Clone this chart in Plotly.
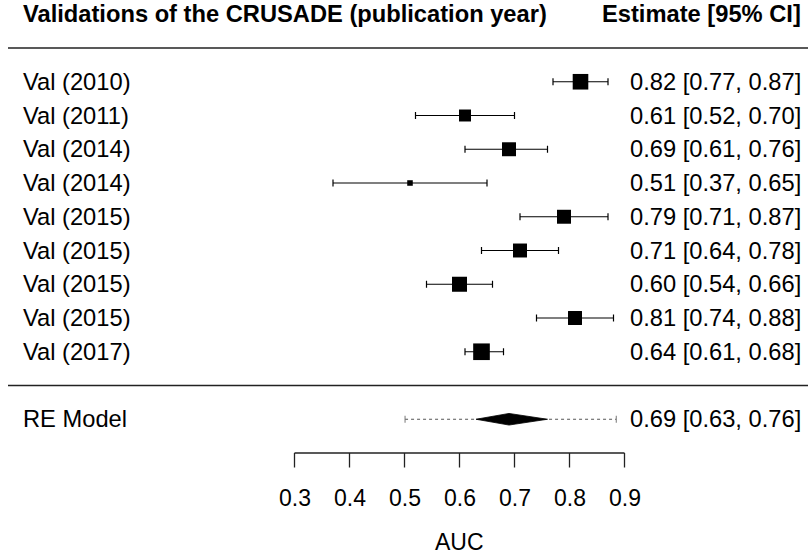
import plotly.graph_objects as go

# ---- data ----
studies = ["Val (2010)", "Val (2011)", "Val (2014)", "Val (2014)", "Val (2015)",
           "Val (2015)", "Val (2015)", "Val (2015)", "Val (2017)"]
estimates = [0.82, 0.61, 0.69, 0.51, 0.79, 0.71, 0.60, 0.81, 0.64]
ci_lower = [0.77, 0.52, 0.61, 0.37, 0.71, 0.64, 0.54, 0.74, 0.61]
ci_upper = [0.87, 0.70, 0.76, 0.65, 0.87, 0.78, 0.66, 0.88, 0.68]
weights = [12.6, 9.5, 11.2, 4.0, 11.2, 11.2, 12.1, 11.2, 13.5]  # relative study weights

re_label = "RE Model"
re_estimate = 0.69
re_lower = 0.63
re_upper = 0.76
pi_lower = 0.501
pi_upper = 0.885

tick_values = [0.3, 0.4, 0.5, 0.6, 0.7, 0.8, 0.9]
tick_labels = ["0.3", "0.4", "0.5", "0.6", "0.7", "0.8", "0.9"]
x_title = "AUC"
header_left = "Validations of the CRUSADE (publication year)"
header_right = "Estimate [95% CI]"

# ---- layout helpers ----
W, H = 808, 556
FONT = "Liberation Sans, Arial, Helvetica, sans-serif"
FS = 23.7
FS_AX = 23
PX_PER_UNIT = 550.0          # pixels per 1.0 on the AUC scale
X0_PX = 294.5                # pixel of 0.3
ROW_PX = 33.75               # pixels per row
ROW0_PX = 385.5              # pixel of row 0


def xd(px):
    return 0.3 + (px - X0_PX) / PX_PER_UNIT


def rpx(px):
    return px / ROW_PX


k = len(studies)
rows = list(range(k, 0, -1))

fig = go.Figure()

# CI whiskers with end ticks
tick_h = rpx(3.5)
wx, wy = [], []
for r, l, h in zip(rows, ci_lower, ci_upper):
    wx += [l, h, None, l, l, None, h, h, None]
    wy += [r, r, None, r - tick_h, r + tick_h, None, r - tick_h, r + tick_h, None]
fig.add_trace(go.Scatter(x=wx, y=wy, mode="lines",
                         line=dict(color="black", width=1.2),
                         hoverinfo="skip", showlegend=False))

# squares sized by weight (cex 0.5 .. 1.5)
wmin, wmax = min(weights), max(weights)
sizes = [11.1 * (0.5 + (w - wmin) / (wmax - wmin)) for w in weights]
fig.add_trace(go.Scatter(x=estimates, y=rows, mode="markers",
                         marker=dict(symbol="square", size=sizes, color="black", opacity=1,
                                     line=dict(width=0)),
                         hoverinfo="skip", showlegend=False))

# prediction interval (dotted) with end ticks
re_row = -1
fig.add_trace(go.Scatter(x=[pi_lower, pi_upper], y=[re_row, re_row], mode="lines",
                         line=dict(color="#555555", width=1, dash="dot"),
                         hoverinfo="skip", showlegend=False))
fig.add_trace(go.Scatter(x=[pi_lower, pi_lower, None, pi_upper, pi_upper],
                         y=[re_row - tick_h, re_row + tick_h, None, re_row - tick_h, re_row + tick_h],
                         mode="lines", line=dict(color="#777777", width=1),
                         hoverinfo="skip", showlegend=False))

# diamond
dh = rpx(5.8)
fig.add_trace(go.Scatter(x=[re_lower, re_estimate, re_upper, re_estimate, re_lower],
                         y=[re_row, re_row + dh, re_row, re_row - dh, re_row],
                         mode="lines", fill="toself", fillcolor="black",
                         line=dict(color="black", width=0.8),
                         hoverinfo="skip", showlegend=False))

shapes = []
# horizontal separators
for r in [k + 1, 0]:
    shapes.append(dict(type="line", xref="paper", yref="y", x0=8 / W, x1=1,
                       y0=r, y1=r, line=dict(color="#222222", width=1.6)))

# bottom axis
ax_row = -2
tick_len = rpx(14.5)
shapes.append(dict(type="line", xref="x", yref="y", x0=tick_values[0], x1=tick_values[-1],
                   y0=ax_row, y1=ax_row, line=dict(color="#222222", width=1.3)))
for tv in tick_values:
    shapes.append(dict(type="line", xref="x", yref="y", x0=tv, x1=tv,
                       y0=ax_row, y1=ax_row - tick_len, line=dict(color="#222222", width=1.3)))

annotations = []
left_x = xd(22)
right_x = xd(802)
fnt = dict(family=FONT, size=FS, color="black")
fnt_ax = dict(family=FONT, size=FS_AX, color="black")
for r, s, e, l, h in zip(rows, studies, estimates, ci_lower, ci_upper):
    annotations.append(dict(x=left_x, y=r, xref="x", yref="y", text=s, showarrow=False,
                            xanchor="left", yanchor="middle", font=fnt, borderpad=0))
    annotations.append(dict(x=right_x, y=r, xref="x", yref="y",
                            text=f"{e:.2f} [{l:.2f}, {h:.2f}]", showarrow=False,
                            xanchor="right", yanchor="middle", font=fnt, borderpad=0))
annotations.append(dict(x=left_x, y=re_row, xref="x", yref="y", text=re_label, showarrow=False,
                        xanchor="left", yanchor="middle", font=fnt, borderpad=0))
annotations.append(dict(x=right_x, y=re_row, xref="x", yref="y",
                        text=f"{re_estimate:.2f} [{re_lower:.2f}, {re_upper:.2f}]",
                        showarrow=False, xanchor="right", yanchor="middle", font=fnt, borderpad=0))
# headers
hdr_row = k + 2
annotations.append(dict(x=left_x, y=hdr_row, xref="x", yref="y", text=f"<b>{header_left}</b>",
                        showarrow=False, xanchor="left", yanchor="middle", font=fnt, borderpad=0))
annotations.append(dict(x=right_x, y=hdr_row, xref="x", yref="y", text=f"<b>{header_right}</b>",
                        showarrow=False, xanchor="right", yanchor="middle", font=fnt, borderpad=0))
# tick labels and axis title
lab_row = (ROW0_PX - 498) / ROW_PX
for tv, tl in zip(tick_values, tick_labels):
    annotations.append(dict(x=tv, y=lab_row, xref="x", yref="y", text=tl, showarrow=False,
                            xanchor="center", yanchor="middle", font=fnt_ax, borderpad=0))
title_row = (ROW0_PX - 542) / ROW_PX
annotations.append(dict(x=(tick_values[0] + tick_values[-1]) / 2, y=title_row, xref="x", yref="y",
                        text=x_title, showarrow=False, xanchor="center", yanchor="middle",
                        font=fnt_ax, borderpad=0))

fig.update_layout(
    width=W, height=H,
    margin=dict(l=0, r=0, t=0, b=0),
    paper_bgcolor="white", plot_bgcolor="white",
    xaxis=dict(range=[xd(0), xd(W)], visible=False, fixedrange=True),
    yaxis=dict(range=[(ROW0_PX - H) / ROW_PX, ROW0_PX / ROW_PX], visible=False,
               fixedrange=True, autorange=False),
    shapes=shapes, annotations=annotations,
    showlegend=False,
)

fig.write_html("out.html", config={"displayModeBar": False},
               post_script="document.body.style.margin='0';document.body.style.overflow='hidden';")
